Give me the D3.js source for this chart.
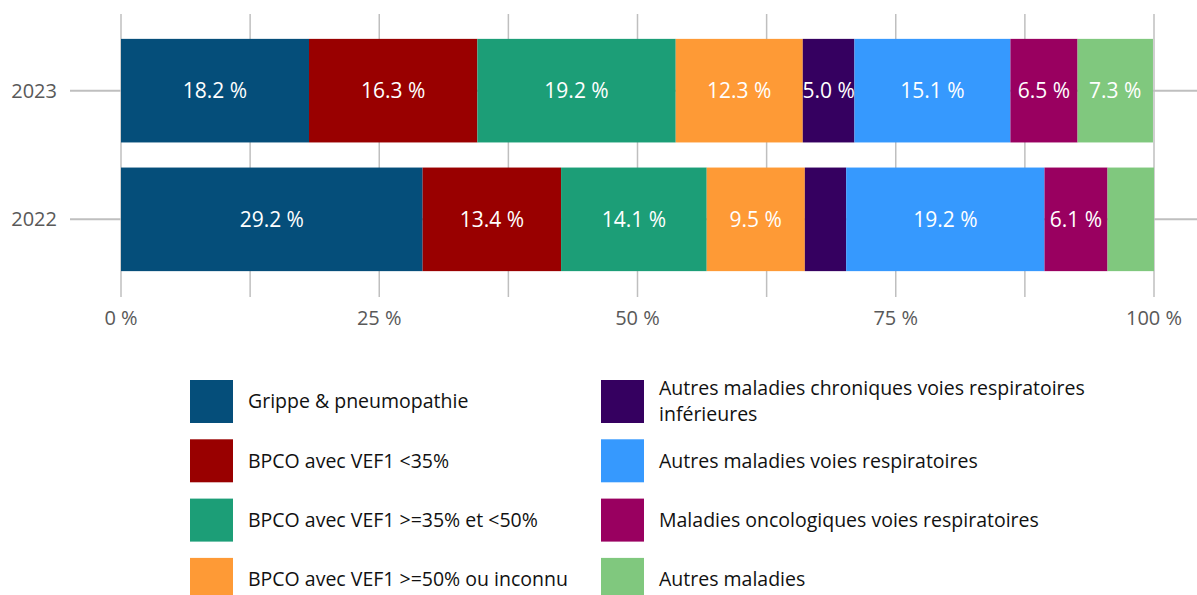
<!DOCTYPE html>
<html>
<head>
<meta charset="utf-8">
<script src="https://cdn.jsdelivr.net/npm/d3@7"></script>
<style>
  body { margin: 0; background: #fff; }
  svg { display: block; font-family: "Segoe UI", "Open Sans", sans-serif; }
</style>
</head>
<body>
<svg width="1197" height="595"></svg>
<script>
var years = ['2023', '2022'];

var series = [
  'Grippe & pneumopathie',
  'BPCO avec VEF1 <35%',
  'BPCO avec VEF1 >=35% et <50%',
  'BPCO avec VEF1 >=50% ou inconnu',
  'Autres maladies chroniques voies respiratoires inférieures',
  'Autres maladies voies respiratoires',
  'Maladies oncologiques voies respiratoires',
  'Autres maladies'
];

var colors = ['#054e7a', '#990000', '#1c9e77', '#fe9a36', '#350060', '#3699fe', '#990060', '#80c87e'];

var values2023 = [18.2, 16.3, 19.2, 12.3, 5.0, 15.1, 6.5, 7.3];
var values2022 = [29.2, 13.4, 14.1, 9.5, 4.0, 19.2, 6.1, 4.5];

var xTicks = [0, 25, 50, 75, 100];
var xGrid = [0, 12.5, 25, 37.5, 50, 62.5, 75, 87.5, 100];

var svg = d3.select('svg');

var x = d3.scaleLinear().domain([0, 100]).range([121, 1154]);
var y = d3.scaleBand().domain(years).range([26, 284]).paddingInner(0.195).paddingOuter(0.1);

var table = years.map(function(yr, i) {
  var vals = i === 0 ? values2023 : values2022;
  var row = {year: yr};
  series.forEach(function(s, j) { row[s] = vals[j]; });
  return row;
});
var stacked = d3.stack().keys(series)(table);

// vertical grid
svg.append('g').selectAll('line')
  .data(xGrid)
  .enter().append('line')
  .attr('x1', function(d) { return x(d); })
  .attr('x2', function(d) { return x(d); })
  .attr('y1', 14)
  .attr('y2', 297)
  .attr('stroke', '#bfbfbf')
  .attr('stroke-width', 1.5);

// horizontal category lines
svg.append('g').selectAll('line')
  .data(years)
  .enter().append('line')
  .attr('x1', 70)
  .attr('x2', 1197)
  .attr('y1', function(d) { return y(d) + y.bandwidth() / 2; })
  .attr('y2', function(d) { return y(d) + y.bandwidth() / 2; })
  .attr('stroke', '#bfbfbf')
  .attr('stroke-width', 2);

// bars
var layer = svg.append('g').selectAll('g')
  .data(stacked)
  .enter().append('g')
  .attr('fill', function(d, i) { return colors[i]; });

layer.selectAll('rect')
  .data(function(d) { return d; })
  .enter().append('rect')
  .attr('x', function(d) { return x(d[0]); })
  .attr('width', function(d) { return x(d[1]) - x(d[0]); })
  .attr('y', function(d) { return y(d.data.year); })
  .attr('height', y.bandwidth());

layer.selectAll('text')
  .data(function(d) { return d.filter(function(p) { return p[1] - p[0] >= 5; }); })
  .enter().append('text')
  .attr('x', function(d) { return (x(d[0]) + x(d[1])) / 2; })
  .attr('y', function(d) { return y(d.data.year) + y.bandwidth() / 2; })
  .attr('dy', '0.35em')
  .attr('text-anchor', 'middle')
  .attr('fill', '#fff')
  .style('font-size', '21px')
  .text(function(d) { return (d[1] - d[0]).toFixed(1) + ' %'; });

// x axis labels
svg.append('g').selectAll('text')
  .data(xTicks)
  .enter().append('text')
  .attr('x', function(d) { return x(d); })
  .attr('y', 318)
  .attr('dy', '0.35em')
  .attr('text-anchor', 'middle')
  .attr('fill', '#595959')
  .style('font-size', '20px')
  .text(function(d) { return d + ' %'; });

// y labels
svg.append('g').selectAll('text')
  .data(years)
  .enter().append('text')
  .attr('x', 57)
  .attr('y', function(d) { return y(d) + y.bandwidth() / 2; })
  .attr('dy', '0.35em')
  .attr('text-anchor', 'end')
  .attr('fill', '#595959')
  .style('font-size', '20px')
  .text(function(d) { return d; });

// legend
var legend = svg.append('g').selectAll('g')
  .data(series)
  .enter().append('g')
  .attr('transform', function(d, i) {
    var col = Math.floor(i / 4), row = i % 4;
    return 'translate(' + (col === 0 ? 190 : 601) + ',' + (380 + row * 59.3) + ')';
  });

legend.append('rect')
  .attr('width', 43)
  .attr('height', 43)
  .attr('fill', function(d, i) { return colors[i]; });

legend.each(function(d) {
  var g = d3.select(this);
  var words = d.split(' ');
  var lines = [], cur = '';
  var probe = g.append('text').style('font-size', '19.5px');
  words.forEach(function(w) {
    var test = cur ? cur + ' ' + w : w;
    probe.text(test);
    if (probe.node().getComputedTextLength() > 450 && cur) {
      lines.push(cur);
      cur = w;
    } else {
      cur = test;
    }
  });
  lines.push(cur);
  probe.remove();
  var lh = 26;
  var start = 21.5 - (lines.length - 1) * lh / 2;
  // one text element per line
  lines.forEach(function(l, k) {
    g.append('text')
      .attr('x', 58)
      .attr('y', start + k * lh)
      .attr('dy', '0.35em')
      .attr('fill', '#111')
      .style('font-size', '19.5px')
      .text(l);
  });
});
</script>
</body>
</html>
